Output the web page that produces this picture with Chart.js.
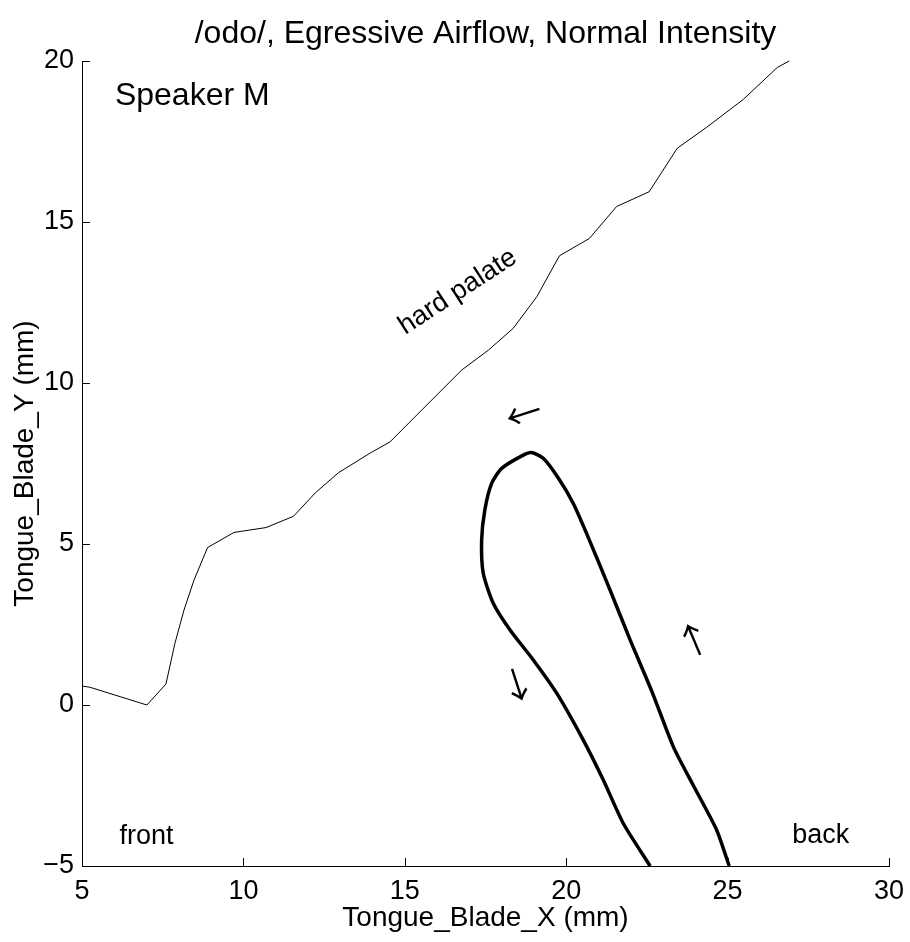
<!DOCTYPE html>
<html><head><meta charset="utf-8">
<script src="https://cdn.jsdelivr.net/npm/chart.js@4"></script>
<style>html,body{margin:0;padding:0;background:#fff}</style>
</head><body>
<canvas id="c" width="910" height="942"></canvas>
<script>
// ---- data ----
const palateX = [5, 5.25, 7.01, 7.6, 7.88, 8.16, 8.47, 8.89, 9.71, 10.7, 11.55, 12.23, 12.94, 13.92, 14.54, 16.76, 17.59, 18.36, 19.09, 19.79, 20.72, 21.56, 22.57, 23.44, 24.35, 25.49, 26.54, 26.91];
const palateY = [0.59, 0.55, 0.0, 0.65, 1.92, 2.95, 3.88, 4.89, 5.36, 5.51, 5.86, 6.59, 7.21, 7.82, 8.17, 10.4, 11.02, 11.7, 12.68, 13.95, 14.49, 15.48, 15.94, 17.29, 17.94, 18.81, 19.8, 20.0];
const tongueX = [25.05, 24.66, 23.96, 23.32, 22.65, 21.98, 21.36, 20.63, 20.22, 19.76, 19.29, 18.93, 18.67, 18.0, 17.69, 17.48, 17.38, 17.43, 17.74, 18.26, 18.98, 19.71, 20.53, 21.15, 21.77, 22.6];
const tongueY = [-5, -3.88, -2.54, -1.3, 0.43, 2.02, 3.57, 5.33, 6.26, 7.04, 7.66, 7.84, 7.76, 7.35, 6.88, 6.06, 5.12, 4.09, 3.16, 2.33, 1.4, 0.36, -1.09, -2.33, -3.68, -5];
const xTicks = [5, 10, 15, 20, 25, 30];
const yTicks = [-5, 0, 5, 10, 15, 20];
const noteTexts = ['Speaker M', 'hard palate', 'front', 'back'];
const noteX = [6.02, 16.64, 6.16, 27.0];
const noteY = [18.63, 12.83, -4.32, -4.30];
const arrowGlyphs = ['\u2190', '\u2191', '\u2193'];
const arrowX = [18.68, 23.95, 18.48];
const arrowY = [9.04, 2.03, 0.63];

// ---- styles ----
const FONT = 'Liberation Sans, Arial, sans-serif';
const noteStyle = [
  {size: 32, align: 'left', base: 'alphabetic', rot: 0},
  {size: 27, align: 'center', base: 'middle', rot: -33},
  {size: 27, align: 'left', base: 'alphabetic', rot: 0},
  {size: 27, align: 'left', base: 'alphabetic', rot: 0}
];
const arrowRot = [-18, -23, -18];

const fmt = v => v < 0 ? '\u2212' + Math.abs(v) : String(v);

const annotPlugin = {
  id: 'annot',
  afterDatasetsDraw(chart) {
    const {ctx, scales: {x, y}} = chart;
    ctx.save();
    ctx.fillStyle = '#000';
    noteTexts.forEach((t, i) => {
      const st = noteStyle[i];
      ctx.save();
      ctx.translate(x.getPixelForValue(noteX[i]), y.getPixelForValue(noteY[i]));
      ctx.rotate(st.rot * Math.PI / 180);
      ctx.font = st.size + 'px ' + FONT;
      ctx.textAlign = st.align;
      ctx.textBaseline = st.base;
      ctx.fillText(t, 0, 0);
      ctx.restore();
    });
    arrowGlyphs.forEach((g, i) => {
      ctx.save();
      ctx.translate(x.getPixelForValue(arrowX[i]), y.getPixelForValue(arrowY[i]));
      ctx.rotate(arrowRot[i] * Math.PI / 180);
      ctx.font = '36px "Noto Sans CJK JP"';
      ctx.textAlign = 'center';
      ctx.textBaseline = 'middle';
      ctx.fillText(g, 0, 0);
      ctx.restore();
    });
    // inward tick marks
    ctx.strokeStyle = '#000';
    ctx.lineWidth = 1;
    ctx.beginPath();
    const b = Math.round(y.getPixelForValue(-5));
    xTicks.forEach(v => {
      const px = Math.round(x.getPixelForValue(v)) + 0.5;
      ctx.moveTo(px, b); ctx.lineTo(px, b - 8);
    });
    const l = Math.round(x.getPixelForValue(5));
    yTicks.forEach(v => {
      const py = Math.round(y.getPixelForValue(v)) + 0.5;
      ctx.moveTo(l, py); ctx.lineTo(l + 8, py);
    });
    ctx.stroke();
    ctx.restore();
  }
};

new Chart(document.getElementById('c'), {
  type: 'scatter',
  data: {
    datasets: [
      {data: palateX.map((v, i) => ({x: v, y: palateY[i]})), showLine: true, borderColor: '#000', borderWidth: 1, pointRadius: 0, tension: 0, clip: 4},
      {data: tongueX.map((v, i) => ({x: v, y: tongueY[i]})), showLine: true, borderColor: '#000', borderWidth: 3.5, pointRadius: 0, tension: 0.22, clip: 4}
    ]
  },
  options: {
    responsive: false, animation: false, devicePixelRatio: 1,
    layout: {padding: {left: 0, right: 21, top: 0, bottom: 0}},
    plugins: {
      legend: {display: false}, tooltip: {enabled: false},
      title: {display: true, text: '/odo/, Egressive Airflow, Normal Intensity', fullSize: false, color: '#000',
        font: {family: FONT, size: 32, weight: 'normal', lineHeight: 1.2}, padding: {top: 15, bottom: 7.6}}
    },
    scales: {
      x: {
        type: 'linear', min: 5, max: 30,
        afterBuildTicks: s => { s.ticks = xTicks.map(v => ({value: v})); },
        ticks: {color: '#000', font: {family: FONT, size: 27}, padding: 9, maxRotation: 0, autoSkip: false, callback: v => fmt(v)},
        grid: {drawOnChartArea: false, drawTicks: false},
        border: {display: true, color: '#000', width: 1},
        title: {display: true, text: 'Tongue_Blade_X (mm)', color: '#000', font: {family: FONT, size: 28, lineHeight: 1.2}, padding: {top: 0, bottom: 7}},
        afterFit: s => { s.height = 76; s.paddingLeft = 0; s.paddingRight = 0; }
      },
      y: {
        type: 'linear', min: -5, max: 20,
        afterBuildTicks: s => { s.ticks = yTicks.map(v => ({value: v})); },
        ticks: {color: '#000', font: {family: FONT, size: 27}, padding: 8, autoSkip: false, callback: v => fmt(v)},
        grid: {drawOnChartArea: false, drawTicks: false},
        border: {display: true, color: '#000', width: 1},
        title: {display: true, text: 'Tongue_Blade_Y (mm)', color: '#000', font: {family: FONT, size: 28, lineHeight: 1.2}, padding: {top: 8, bottom: 0}},
        afterFit: s => { s.width = 82; s.paddingTop = 0; s.paddingBottom = 0; }
      }
    }
  },
  plugins: [annotPlugin]
});
</script>
</body></html>
